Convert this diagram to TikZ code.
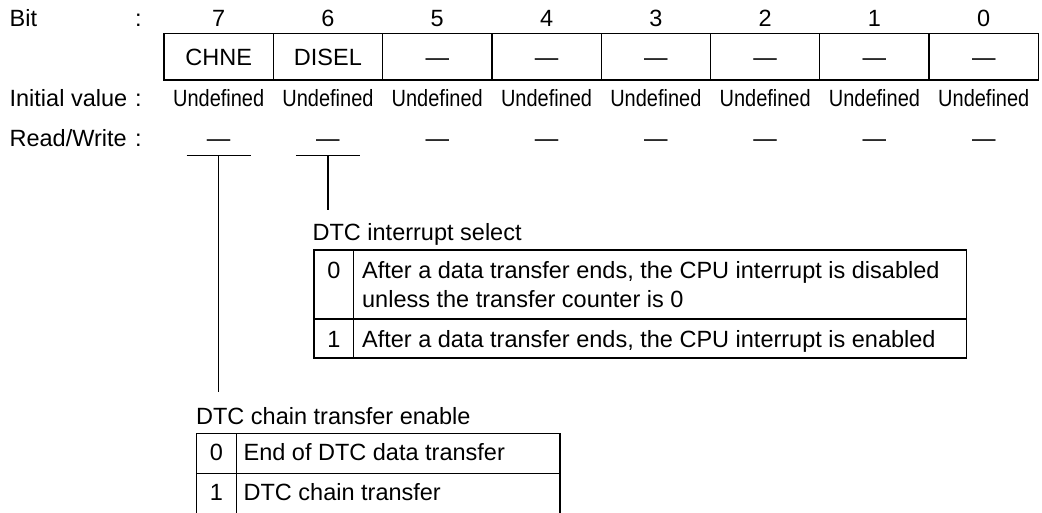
\documentclass[tikz,border=0pt]{standalone}
\usepackage{fontspec}
\setmainfont{Liberation Sans}
\newfontfamily\narrowfont[FakeStretch=0.85]{Liberation Sans}
\usetikzlibrary{positioning}

\newcommand{\regsize}{\fontsize{23.5}{28.7}\selectfont}

\begin{document}
\begin{tikzpicture}[x=1pt,y=-1pt,line width=1.3pt,
  every node/.style={font=\regsize,inner sep=0pt},
  cell/.style={draw,minimum width=109.3pt,minimum height=46.7pt,
    text height=16.8pt,text depth=0pt},
  undef/.style={font=\narrowfont\regsize},
  lead/.style={line width=1.1pt}]
\useasboundingbox (0,0) rectangle (1042,512);
% ---------- row labels ----------
\node[anchor=base west] (lbit) at (9,26) {Bit};
\node[anchor=base west] (linit) at (9,106) {Initial value};
\node[anchor=base west] (lrw) at (9,146.7) {Read/Write};
\foreach \y/\n in {26/cbit,106/cinit,146.7/crw}
  \node[anchor=base] (\n) at (138.3,\y) {:};
% ---------- register cells, bit 7 to bit 0 ----------
\foreach \b/\name [count=\i from 0] in {7/CHNE,6/DISEL,5/—,4/—,3/—,2/—,1/—,0/—}{
  \pgfmathsetmacro\cx{218.65+109.3*\i}
  \node[anchor=base] (num\b) at (\cx,26) {\b};
  \node[cell] (reg\b) at (\cx,56.65) {\name};
  \node[anchor=base,undef] (init\b) at (\cx,106) {Undefined};
  \node[anchor=base] (rw\b) at (\cx,146.7) {—};
}
% ---------- leaders under bits 7 and 6 ----------
\foreach \b in {7,6}{
  \path (rw\b.base) ++(0,9) coordinate (t\b);
  \draw[lead] ([xshift=-32pt]t\b) -- ([xshift=32pt]t\b);
}
% ---------- DISEL: DTC interrupt select ----------
\node[anchor=base west] (capsel) at (312,240.7) {DTC interrupt select};
\draw[lead,shorten >=12.9pt] (t6) -- (t6 |- capsel.north);
\draw (314,250) rectangle (966.7,358);
\draw (314,319) -- (966.7,319);
\draw (353.8,250) -- (353.8,358);
\node[anchor=base] (sel0) at (333.9,278.3) {0};
% base of a two-line node is its last line
\node[anchor=base west,align=left] (seltx0) at (361.5,307)
  {After a data transfer ends, the CPU interrupt is disabled\\unless the transfer counter is 0};
\node[anchor=base] (sel1) at (333.9,347.3) {1};
\node[anchor=base west] (seltx1) at (361.5,347.3)
  {After a data transfer ends, the CPU interrupt is enabled};
% ---------- CHNE: DTC chain transfer enable ----------
\node[anchor=base west] (capchn) at (195.5,424) {DTC chain transfer enable};
\draw[lead,shorten >=14.5pt] (t7) -- (t7 |- capchn.north);
\draw (196.6,433.3) rectangle (560,513.3);
\draw (196.6,473.3) -- (560,473.3);
\draw (236.4,433.3) -- (236.4,513.3);
\node[anchor=base] (chn0) at (216.5,460) {0};
\node[anchor=base west] (chntx0) at (243,460) {End of DTC data transfer};
\node[anchor=base] (chn1) at (216.5,500) {1};
\node[anchor=base west] (chntx1) at (243,500) {DTC chain transfer};
\end{tikzpicture}
\end{document}
